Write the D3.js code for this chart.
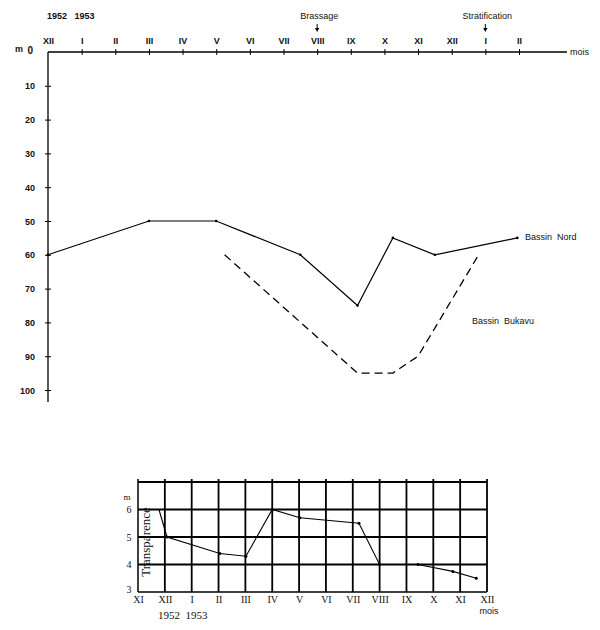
<!DOCTYPE html>
<html><head><meta charset="utf-8">
<script src="https://cdn.jsdelivr.net/npm/d3@7"></script>
<style>body{margin:0;background:#fff}svg{display:block}</style>
</head><body>
<svg id="c" width="600" height="630"></svg>
<script>
// ---- data: top chart (depth in m) ----
const topMonths = ["XII","I","II","III","IV","V","VI","VII","VIII","IX","X","XI","XII","I","II"];
const depthTicks = [0,10,20,30,40,50,60,70,80,90,100];
const nordMonth = [0, 3, 5, 7.5, 9.2, 10.25, 11.5, 13.95];
const nordDepth = [60, 50, 50, 60, 75, 55, 60, 55];
const bukavuMonth = [5.25, 9.2, 10.25, 11, 12.8];
const bukavuDepth = [60, 95, 95, 90, 60];
// ---- data: bottom chart (transparency in m) ----
const botMonths = ["XI","XII","I","II","III","IV","V","VI","VII","VIII","IX","X","XI","XII"];
const transTicks = [3,4,5,6];
const transMonth = [0.78, 1.08, 3.05, 4.02, 5.0, 6.03, 8.23, 9.0, 10.43, 11.73, 12.6];
const transValue = [6.0, 5.0, 4.4, 4.3, 6.0, 5.7, 5.5, 4.0, 4.0, 3.75, 3.5];

const svg = d3.select("#c");
const sans = "Liberation Sans, Arial, sans-serif";
const serif = "Liberation Serif, Times New Roman, serif";

// ===== TOP CHART =====
const x = d3.scaleLinear().domain([0,14]).range([48,519]);
const y = d3.scaleLinear().domain([0,100]).range([52,390]);
const gTop = svg.append("g");

// x axis
const xa = gTop.append("g").attr("transform",`translate(0,${y(0)})`)
  .call(d3.axisTop(x).tickValues(d3.range(topMonths.length)).tickFormat(i=>topMonths[i]).tickSizeOuter(0).tickSize(3));
xa.select(".domain").remove();
xa.selectAll(".tick line").attr("y1",3).attr("y2",-3).attr("stroke","#000").attr("stroke-width",1);
xa.selectAll(".tick").filter(d=>d===0).select("line").remove();
xa.selectAll(".tick text").attr("y",-8).attr("dy",0).attr("font-family",sans).attr("font-size",9).attr("font-weight","bold").attr("fill","#111");
gTop.append("line").attr("x1",x(0)).attr("x2",567).attr("y1",y(0)).attr("y2",y(0)).attr("stroke","#000").attr("stroke-width",1.3);
gTop.append("text").attr("x",570).attr("y",y(0)+3).text("mois").attr("font-family",sans).attr("font-size",9).attr("fill","#111");

// y axis
const ya = gTop.append("g").attr("transform",`translate(${x(0)},0)`)
  .call(d3.axisLeft(y).tickValues(depthTicks).tickSizeOuter(0).tickSize(3));
ya.select(".domain").remove();
ya.selectAll(".tick line").attr("x1",3).attr("x2",-3).attr("stroke","#000");
ya.selectAll(".tick").filter(d=>d===0).select("line").remove();
ya.selectAll(".tick text").attr("x",-13).attr("dy","0.35em").attr("font-family",sans).attr("font-size",9).attr("font-weight","bold").attr("fill","#111");
ya.selectAll(".tick").filter(d=>d===0).select("text").attr("x",-15).attr("dy","0.1em").attr("font-size",10);
gTop.append("line").attr("x1",x(0)).attr("x2",x(0)).attr("y1",y(0)).attr("y2",402).attr("stroke","#000").attr("stroke-width",1.3);
gTop.append("text").attr("x",15).attr("y",y(0)).text("m").attr("font-family",sans).attr("font-size",9).attr("font-weight","bold").attr("fill","#111");

// year labels and events
gTop.append("text").attr("x",47).attr("y",19).text("1952   1953").attr("font-family",sans).attr("font-size",9).attr("font-weight","bold").attr("fill","#111").attr("xml:space","preserve");
function addEvent(label, m){
  gTop.append("text").attr("x",x(m)+2).attr("y",19).attr("text-anchor","middle").text(label).attr("font-family",sans).attr("font-size",9).attr("fill","#111");
  gTop.append("line").attr("x1",x(m)).attr("x2",x(m)).attr("y1",24).attr("y2",30).attr("stroke","#000");
  gTop.append("path").attr("d",`M${x(m)-2.2},28 L${x(m)+2.2},28 L${x(m)},32 Z`).attr("fill","#000");
}
addEvent("Brassage", 8);
addEvent("Stratification", 13);

// lines
const lineTop = d3.line().x(d=>x(d[0])).y(d=>y(d[1]));
const nord = nordMonth.map((m,i)=>[m,nordDepth[i]]);
const buk = bukavuMonth.map((m,i)=>[m,bukavuDepth[i]]);
gTop.append("path").attr("d",lineTop(nord)).attr("fill","none").attr("stroke","#000").attr("stroke-width",1.2);
gTop.selectAll(".nd").data(nord).join("circle").attr("cx",d=>x(d[0])).attr("cy",d=>y(d[1])).attr("r",1.3).attr("fill","#000");
gTop.append("path").attr("d",lineTop(buk)).attr("fill","none").attr("stroke","#000").attr("stroke-width",1.3).attr("stroke-dasharray","8,5");
gTop.append("text").attr("x",525).attr("y",240).text("Bassin  Nord").attr("font-family",sans).attr("font-size",9).attr("fill","#111").attr("xml:space","preserve");
gTop.append("text").attr("x",472).attr("y",324).text("Bassin  Bukavu").attr("font-family",sans).attr("font-size",9).attr("fill","#111").attr("xml:space","preserve");

// ===== BOTTOM CHART =====
const bx = d3.scaleLinear().domain([0,13]).range([138,487]);
const by = d3.scaleLinear().domain([3,7]).range([592,482]);
const bot = svg.append("g");
// horizontal grid
bot.selectAll(".hg").data([4,5,6,7]).join("line")
  .attr("x1",bx(0)).attr("x2",bx(13)).attr("y1",d=>by(d)).attr("y2",d=>by(d))
  .attr("stroke","#000").attr("stroke-width",d=>d===7?2.2:1.8);
bot.append("line").attr("x1",bx(0)).attr("x2",bx(13)).attr("y1",by(3)).attr("y2",by(3)).attr("stroke","#000").attr("stroke-width",1.3);
// vertical grid
bot.selectAll(".vg").data(d3.range(14)).join("line")
  .attr("x1",d=>bx(d)).attr("x2",d=>bx(d)).attr("y1",d=>by(7)-3).attr("y2",by(3))
  .attr("stroke","#000").attr("stroke-width",d=>d===0?1.5:1.8);
// axis labels
const bxa = bot.append("g").attr("transform",`translate(0,${by(3)})`)
  .call(d3.axisBottom(bx).tickValues(d3.range(botMonths.length)).tickFormat(i=>botMonths[i]).tickSize(0));
bxa.select(".domain").remove();
bxa.selectAll(".tick text").attr("y",11).attr("dy",0).attr("font-family",serif).attr("font-size",10).attr("fill","#111");
const bya = bot.append("g").attr("transform",`translate(129,0)`)
  .call(d3.axisLeft(by).tickValues(transTicks).tickFormat(d3.format("d")).tickSize(0).tickPadding(0));
bya.select(".domain").remove();
bya.selectAll(".tick text").attr("text-anchor","middle").attr("x",0).attr("dy","0.3em").attr("font-family",serif).attr("font-size",10).attr("fill","#111");
bya.selectAll(".tick").filter(d=>d===3).select("text").attr("dy","0em");
bot.append("text").attr("x",127).attr("y",500).attr("text-anchor","middle").text("m").attr("font-family",serif).attr("font-size",9).attr("fill","#111");
bot.append("text").attr("transform","translate(150,542) rotate(-90)").attr("text-anchor","middle").text("Transparence").attr("font-family",serif).attr("font-size",13).attr("fill","#111");
bot.append("text").attr("x",158).attr("y",619).text("1952  1953").attr("font-family",serif).attr("font-size",11).attr("fill","#111").attr("xml:space","preserve");
bot.append("text").attr("x",bx(13)+2).attr("y",614).attr("text-anchor","middle").text("mois").attr("font-family",sans).attr("font-size",9).attr("fill","#111");
// data line
const trans = transMonth.map((m,i)=>[m,transValue[i]]);
const lineBot = d3.line().x(d=>bx(d[0])).y(d=>by(d[1]));
bot.append("path").attr("d",lineBot(trans)).attr("fill","none").attr("stroke","#000").attr("stroke-width",1.1);
bot.selectAll(".td").data(trans.slice(1)).join("circle").attr("cx",d=>bx(d[0])).attr("cy",d=>by(d[1])).attr("r",1.5).attr("fill","#000");
</script>
</body></html>
